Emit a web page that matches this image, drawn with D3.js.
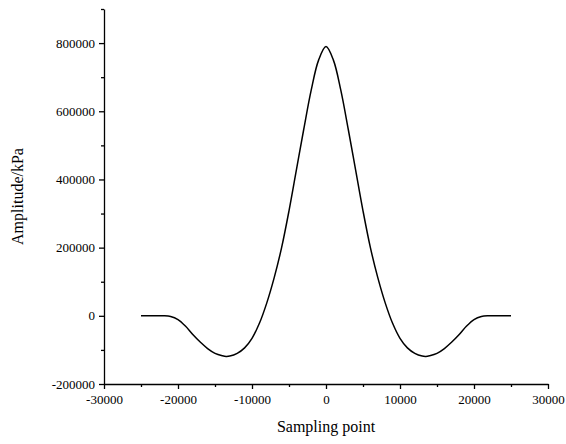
<!DOCTYPE html>
<meta charset="utf-8">
<script src="https://d3js.org/d3.v7.min.js"></script>
<style>
  body { margin: 0; background: #fff; }
  text { font-family: "Liberation Serif", "Times New Roman", Times, serif; fill: #000; }
</style>
<div id="my_dataviz"></div>
<script>

  var samplePoint = [-25000, -24000, -23000, -22000, -21000, -20000, -19000, -18000, -17000, -16000,
                     -15000, -14000, -13500, -13000, -12000, -11000, -10000, -9000, -8000, -7000,
                     -6000, -5000, -4000, -3000, -2000, -1000, 0,
                     1000, 2000, 3000, 4000, 5000, 6000, 7000, 8000, 9000, 10000,
                     11000, 12000, 13000, 13500, 14000, 15000, 16000, 17000, 18000, 19000,
                     20000, 21000, 22000, 23000, 24000, 25000];
  var amplitude = [0, 0, 0, 0, -2000, -11000, -30000, -55000, -77000, -96000,
                   -110000, -117000, -119000, -118000, -110000, -94000, -66000, -22000, 38000, 112000,
                   200000, 308000, 428000, 548000, 662000, 750000, 790000,
                   750000, 662000, 548000, 428000, 308000, 200000, 112000, 38000, -22000, -66000,
                   -94000, -110000, -118000, -119000, -117000, -110000, -96000, -77000, -55000, -30000,
                   -11000, -2000, 0, 0, 0, 0];

  var xTicks = [-30000, -20000, -10000, 0, 10000, 20000, 30000];
  var xMinor = [-25000, -15000, -5000, 5000, 15000, 25000];
  var yTicks = [-200000, 0, 200000, 400000, 600000, 800000];
  var yMinor = [-100000, 100000, 300000, 500000, 700000, 900000];

  var margin = {top: 9, right: 18, bottom: 60, left: 104},
      width = 566 - margin.left - margin.right,
      height = 444 - margin.top - margin.bottom;

  var svg = d3.select("#my_dataviz")
    .append("svg")
      .attr("width", 566)
      .attr("height", 444)
    .append("g")
      .attr("transform", "translate(" + margin.left + "," + margin.top + ")");

  var x = d3.scaleLinear().domain([-30000, 30000]).range([0, width]);
  var y = d3.scaleLinear().domain([-200000, 900000]).range([height, 0]);

  // plain integer labels with an ascii minus, like the original
  var plain = function(d) { return String(d); };

  // X axis, major + minor
  var gx = svg.append("g")
    .attr("transform", "translate(0," + height + ")")
    .call(d3.axisBottom(x).tickValues(xTicks).tickSize(5).tickSizeOuter(0).tickPadding(4).tickFormat(plain));
  svg.append("g")
    .attr("transform", "translate(0," + height + ")")
    .call(d3.axisBottom(x).tickValues(xMinor).tickSize(3).tickSizeOuter(0).tickFormat(""))
    .select(".domain").remove();

  // Y axis, major + minor
  var gy = svg.append("g")
    .call(d3.axisLeft(y).tickValues(yTicks).tickSize(5).tickSizeOuter(0).tickPadding(4).tickFormat(plain));
  svg.append("g")
    .call(d3.axisLeft(y).tickValues(yMinor).tickSize(3).tickSizeOuter(0).tickFormat(""))
    .select(".domain").remove();

  svg.selectAll(".domain, .tick line").attr("stroke", "#000").attr("stroke-width", 1.3);
  svg.selectAll(".tick text")
    .attr("font-family", null)
    .style("font-family", '"Liberation Serif", "Times New Roman", Times, serif')
    .style("font-size", "13px")
    .attr("fill", "#000");
  gx.selectAll(".tick text").attr("dy", "0.85em");

  // curve
  var pts = samplePoint.map(function(d, i) { return [d, amplitude[i]]; });
  svg.append("path")
    .datum(pts)
    .attr("fill", "none")
    .attr("stroke", "#000")
    .attr("stroke-width", 1.5)
    .attr("d", d3.line()
      .x(function(d) { return x(d[0]); })
      .y(function(d) { return y(d[1]); })
      .curve(d3.curveCatmullRom.alpha(0.5)));

  // axis titles
  svg.append("text")
    .attr("x", width / 2)
    .attr("y", height + 48)
    .attr("text-anchor", "middle")
    .style("font-size", "16px")
    .text("Sampling point");

  svg.append("text")
    .attr("transform", "rotate(-90)")
    .attr("x", -height / 2)
    .attr("y", -81)
    .attr("text-anchor", "middle")
    .style("font-size", "16px")
    .text("Amplitude/kPa");

</script>
